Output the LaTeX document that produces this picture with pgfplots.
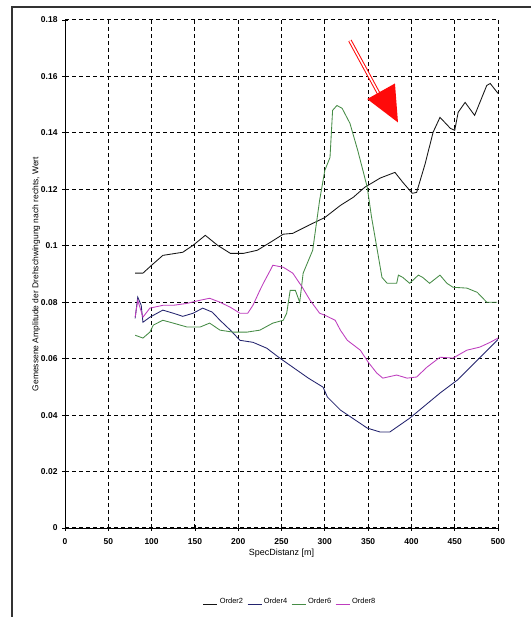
\documentclass[border=0pt]{standalone}
\usepackage{pgfplots}
\pgfplotsset{compat=1.18}
\usepackage{fontspec}
\setmainfont{Liberation Sans}
\definecolor{ordtwo}{RGB}{20,20,20}
\definecolor{ordfour}{RGB}{35,35,110}
\definecolor{ordsix}{RGB}{70,140,70}
\definecolor{ordeight}{RGB}{190,60,190}
\definecolor{arrowred}{RGB}{255,10,10}
\begin{document}
\begin{tikzpicture}[x=1bp,y=1bp]
\useasboundingbox (0,0) rectangle (531,617);
\fill[white] (0,0) rectangle (531,617);
\draw[black!80, line width=1.3bp] (12,0) -- (12,610) -- (531,610);
\begin{axis}[
  at={(65bp,89bp)}, anchor=south west,
  scale only axis, width=433bp, height=508bp,
  xmin=0, xmax=500, ymin=0, ymax=0.18,
  xtick={0,50,...,500},
  ytick={0,0.02,0.04,0.06,0.08,0.1,0.12,0.14,0.16,0.18},
  axis x line*=bottom, axis y line*=left,
  axis line style={-, black, line width=0.9bp},
  tick align=center, major tick length=6bp,
  tick style={black, line width=0.8bp},
  grid=major,
  major grid style={black, dashed, line width=1bp, dash pattern=on 4bp off 3bp},
  /pgf/number format/assume math mode=true,
  /pgf/number format/.cd, fixed, precision=2,
  /pgfplots/.cd,
  tick label style={font=\fontsize{8.5}{9}\selectfont\bfseries},
  xticklabel style={yshift=-4bp},
  yticklabel style={xshift=-1bp},
  xlabel={SpecDistanz [m]},
  xlabel style={font=\fontsize{9}{10}\selectfont, yshift=2bp},
  ylabel={Gemessene Amplitude der Drehschwingung nach rechts, Wert},
  ylabel style={font=\fontsize{8.5}{9}\selectfont, yshift=-6bp},
  legend style={at={(0.52,-0.13)}, anchor=north, draw=none, fill=none,
    font=\fontsize{7.5}{8}\selectfont, legend columns=4,
    /tikz/every even column/.append style={column sep=2bp}},
  legend image code/.code={\draw[#1] (0bp,-2.5bp) -- (14bp,-2.5bp);},
  every axis plot/.append style={line width=0.85bp},
]
\addplot[ordtwo] coordinates {
(81,0.0903)(90,0.0903)(100,0.0931)(113,0.0966)(136,0.0977)(148,0.1002)(162,0.1037)
(176,0.1002)(191,0.0973)(206,0.0973)(222,0.0984)(237,0.1012)(252,0.1041)(263,0.1044)
(283,0.1075)(300,0.1100)(318,0.1143)(333,0.1172)(346,0.1207)(364,0.1240)(381,0.1260)
(390,0.1225)(401,0.1186)(406,0.1189)(416,0.1292)(425,0.1402)(433,0.1455)(445,0.1416)
(450,0.1409)(454,0.1473)(462,0.1508)(473,0.1462)(487,0.1568)(491,0.1575)(500,0.1540)
};
\addlegendentry{Order2}
\addplot[ordfour] coordinates {
(81,0.0743)(84,0.0818)(88,0.0789)(90,0.0729)(98,0.0747)(113,0.0772)(125,0.0761)
(136,0.0750)(148,0.0761)(159,0.0779)(170,0.0765)(179,0.0736)(191,0.0701)(202,0.0665)
(217,0.0658)(233,0.0637)(248,0.0602)(281,0.0531)(298,0.0499)(303,0.0464)(318,0.0418)
(349,0.0354)(364,0.0340)(375,0.0340)(398,0.0389)(433,0.0478)(453,0.0524)(500,0.0668)
};
\addlegendentry{Order4}
\addplot[ordsix] coordinates {
(81,0.0683)(90,0.0673)(98,0.0694)(102,0.0719)(113,0.0736)(125,0.0726)(141,0.0712)
(156,0.0712)(167,0.0726)(179,0.0701)(194,0.0694)(210,0.0694)(225,0.0701)(240,0.0726)
(252,0.0736)(256,0.0761)(260,0.0842)(266,0.0842)(271,0.0800)(275,0.0903)(286,0.0984)
(294,0.1161)(300,0.1267)(306,0.1313)(309,0.1480)(314,0.1497)(320,0.1487)(329,0.1434)
(338,0.1338)(344,0.1267)(349,0.1207)(354,0.1101)(360,0.0995)(366,0.0888)(372,0.0867)
(383,0.0867)(385,0.0896)(390,0.0888)(398,0.0867)(408,0.0896)(413,0.0888)(421,0.0867)
(433,0.0896)(441,0.0867)(448,0.0853)(464,0.0850)(476,0.0835)(487,0.0800)(499,0.0800)
};
\addlegendentry{Order6}
\addplot[ordeight] coordinates {
(81,0.0747)(84,0.0807)(90,0.0747)(98,0.0779)(113,0.0789)(125,0.0789)(141,0.0796)
(156,0.0807)(167,0.0814)(179,0.0800)(191,0.0782)(202,0.0761)(211,0.0761)(217,0.0789)
(225,0.0842)(229,0.0867)(237,0.0913)(240,0.0931)(252,0.0924)(263,0.0903)(274,0.0853)
(283,0.0807)(294,0.0761)(300,0.0754)(312,0.0736)(318,0.0701)(326,0.0665)(341,0.0630)
(350,0.0588)(360,0.0549)(367,0.0531)(383,0.0542)(395,0.0531)(406,0.0535)(418,0.0570)
(433,0.0605)(448,0.0602)(464,0.0630)(479,0.0641)(491,0.0658)(500,0.0673)
};
\addlegendentry{Order8}
\draw[arrowred, double=white, double distance=1.6bp, line width=1bp]
  (axis cs:329,0.1727) -- (axis cs:363,0.1535);
\fill[arrowred] (axis cs:384.5,0.1437) -- (axis cs:349,0.1520) -- (axis cs:381,0.1575) -- cycle;
\end{axis}
\end{tikzpicture}
\end{document}
